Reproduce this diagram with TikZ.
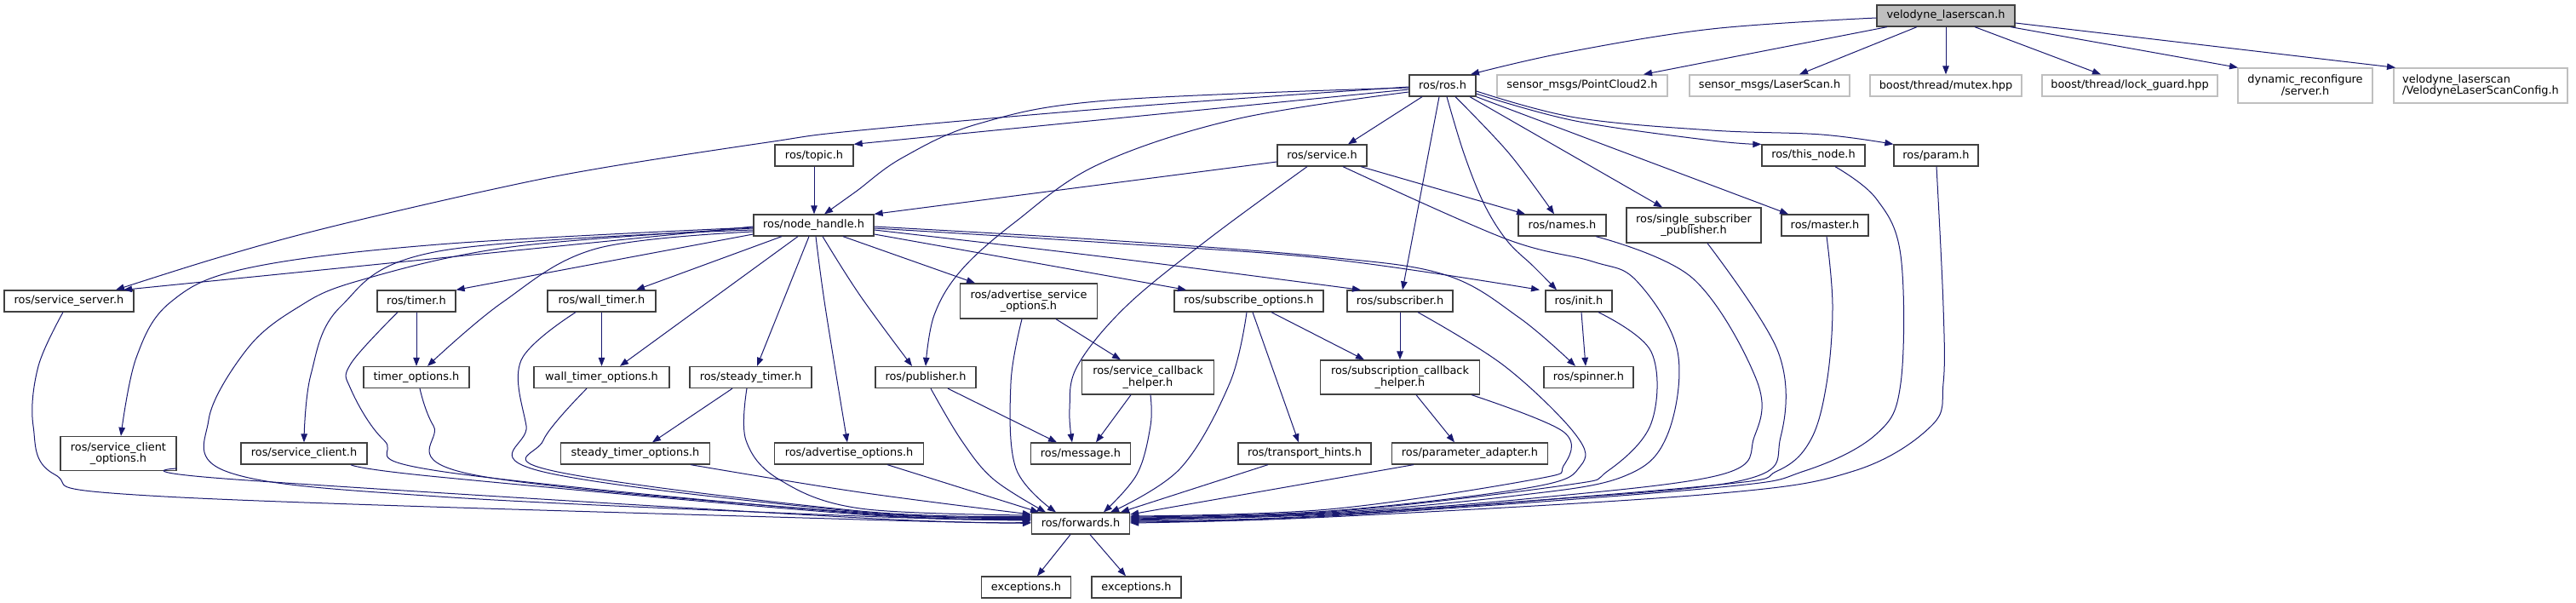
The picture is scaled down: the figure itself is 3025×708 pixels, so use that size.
\documentclass[tikz,border=0pt]{standalone}
\usepackage{fontspec}
\setmainfont{DejaVu Sans}
\usetikzlibrary{arrows.meta}
\definecolor{edgeblue}{HTML}{191970}
\definecolor{nodeborder}{HTML}{404040}
\definecolor{extgray}{HTML}{BFBFBF}
\definecolor{vfill}{HTML}{BFBFBF}
\newcommand\nodefont{\fontsize{12.9}{13.6}\selectfont}
\tikzset{
  nb/.style={draw=nodeborder, line width=1.3pt, fill=white, inner sep=0pt,
    font=\nodefont, align=center, minimum height=25pt},
  ext/.style={nb, draw=extgray},
  e/.style={draw=edgeblue, line width=1pt, -{Triangle[length=10pt,width=7.5pt]}},
  sm/.style={smooth, tension=0.6}
}
\begin{document}
\begin{tikzpicture}[x=1pt,y=-1pt]
\fill[white] (0,0) rectangle (3025,708);
\useasboundingbox (0,0) rectangle (3025,708);
% nodes
\node[nb, fill=vfill, minimum width=162pt] (V) at (2285,18.5) {velodyne\_laserscan.h};
\node[nb, minimum width=78pt] (R) at (1694,100.5) {ros/ros.h};
\node[ext, minimum width=200pt] (PC2) at (1858,100.5) {sensor\_msgs/PointCloud2.h};
\node[ext, minimum width=188pt] (LS) at (2078,100.5) {sensor\_msgs/LaserScan.h};
\node[ext, minimum width=178pt] (MX) at (2285,100.5) {boost/thread/mutex.hpp};
\node[ext, minimum width=206pt] (LG) at (2501,100.5) {boost/thread/lock\_guard.hpp};
\node[ext, minimum width=158pt, minimum height=41pt] (DR) at (2707,100.5) {dynamic\_reconfigure\\/server.h};
\node[ext, minimum width=204pt, minimum height=41pt, align=left] (VC) at (2913,100.5) {velodyne\_laserscan\\/VelodyneLaserScanConfig.h};
\node[nb, minimum width=92pt] (TOP) at (956,182.5) {ros/topic.h};
\node[nb, minimum width=105pt] (SV) at (1552.5,182.5) {ros/service.h};
\node[nb, minimum width=121pt] (TN) at (2129.5,182.5) {ros/this\_node.h};
\node[nb, minimum width=99pt] (PA) at (2273.5,182.5) {ros/param.h};
\node[nb, minimum width=141pt] (NH) at (955.5,264.5) {ros/node\_handle.h};
\node[nb, minimum width=103pt] (NM) at (1834.5,264.5) {ros/names.h};
\node[nb, minimum width=158pt, minimum height=41pt] (SSP) at (1989,264.5) {ros/single\_subscriber\\\_publisher.h};
\node[nb, minimum width=102pt] (MA) at (2143,264.5) {ros/master.h};
\node[nb, minimum width=152pt] (SS) at (81,353.5) {ros/service\_server.h};
\node[nb, minimum width=92pt] (TI) at (489,353.5) {ros/timer.h};
\node[nb, minimum width=127pt] (WT) at (706.5,353.5) {ros/wall\_timer.h};
\node[nb, minimum width=161pt, minimum height=41pt] (ASO) at (1208,353.5) {ros/advertise\_service\\\_options.h};
\node[nb, minimum width=175pt] (SO) at (1466.5,353.5) {ros/subscribe\_options.h};
\node[nb, minimum width=124pt] (SUB) at (1644,353.5) {ros/subscriber.h};
\node[nb, minimum width=78pt] (IN) at (1854,353.5) {ros/init.h};
\node[nb, minimum width=124pt] (TO) at (489,443) {timer\_options.h};
\node[nb, minimum width=159pt] (WTO) at (706.5,443) {wall\_timer\_options.h};
\node[nb, minimum width=143pt] (ST) at (881.5,443) {ros/steady\_timer.h};
\node[nb, minimum width=118pt] (PUB) at (1087,443) {ros/publisher.h};
\node[nb, minimum width=155pt, minimum height=40pt] (SCH) at (1348,443) {ros/service\_callback\\\_helper.h};
\node[nb, minimum width=187pt, minimum height=40pt] (SUBCH) at (1644,443) {ros/subscription\_callback\\\_helper.h};
\node[nb, minimum width=105pt] (SP) at (1865.5,443) {ros/spinner.h};
\node[nb, minimum width=136pt, minimum height=40pt] (SCO) at (139,532.5) {ros/service\_client\\\_options.h};
\node[nb, minimum width=148pt] (SC) at (357,532.5) {ros/service\_client.h};
\node[nb, minimum width=175pt] (STO) at (746,532.5) {steady\_timer\_options.h};
\node[nb, minimum width=175pt] (AO) at (997,532.5) {ros/advertise\_options.h};
\node[nb, minimum width=117pt] (MSG) at (1269,532.5) {ros/message.h};
\node[nb, minimum width=156pt] (TH) at (1532,532.5) {ros/transport\_hints.h};
\node[nb, minimum width=183pt] (PAD) at (1726,532.5) {ros/parameter\_adapter.h};
\node[nb, minimum width=115pt] (F) at (1269,614.5) {ros/forwards.h};
\node[nb, minimum width=105pt] (E1) at (1205,689.5) {exceptions.h};
\node[nb, minimum width=105pt] (E2) at (1334.5,689.5) {exceptions.h};
% edges from velodyne_laserscan.h
\draw[e] plot[sm] coordinates {(V.west|-0,21) (2010,34) (1837,62) (1727,0|-R.north)};
\draw[e] (2216,0|-V.south) -- (1930,0|-PC2.north);
\draw[e] (2251,0|-V.south) -- (2113,0|-LS.north);
\draw[e] (V.south) -- (MX.north);
\draw[e] (2319,0|-V.south) -- (2467,0|-LG.north);
\draw[e] (2361,0|-V.south) -- (2628,0|-DR.north);
\draw[e] (V.east|-0,27) -- (2813,0|-VC.north);
% edges from ros/ros.h
\draw[e] (R.west|-0,105) -- (TOP.north east);
\draw[e] plot[sm] coordinates {(R.west|-0,102) (1330,125) (1010,153) (902,167) (708,197) (580,222) (386,267) (258,302) (136,0|-SS.north)};
\draw[e] plot[sm] coordinates {(R.west|-0,103) (1300,118) (1150,145) (1060,185) (1005,225) (968,0|-NH.north)};
\draw[e] plot[sm] coordinates {(R.west|-0,108) (1451,140) (1290,193) (1193,260) (1129,317) (1097,370) (1087,0|-PUB.north)};
\draw[e] (1670,0|-R.south) -- (1583,0|-SV.north);
\draw[e] (1690,0|-R.south) -- (1647,0|-SUB.north);
\draw[e] plot[sm] coordinates {(1699,0|-R.south) (1719,180) (1743,240) (1770,283) (1801,313) (1828,0|-IN.north)};
\draw[e] plot[sm] coordinates {(1709,0|-R.south) (1772,180) (1825,0|-NM.north)};
\draw[e] (1726,0|-R.south) -- (1952,0|-SSP.north);
\draw[e] (R.south east) -- (2100,0|-MA.north);
\draw[e] plot[sm] coordinates {(R.east|-0,110) (1850,142) (2010,165) (TN.north west)};
\draw[e] plot[sm] coordinates {(R.east|-0,107) (1850,138) (2010,153) (2139,158) (PA.north west)};
% edges from ros/service.h
\draw[e] (SV.west|-0,190) -- (NH.north east);
\draw[e] (1598,0|-SV.south) -- (1791,0|-NM.north);
\draw[e] plot[sm] coordinates {(1535,0|-SV.south) (1420,280) (1322,360) (1265,430) (1256,480) (1259,0|-MSG.north)};
\draw[e] plot[sm] coordinates {(1577,0|-SV.south) (1767,280) (1870,307) (1922,330) (1970,413) (1957,513) (1905,560) (1780,582) (1560,602) (F.east|-0,609)};
% topic
\draw[e] (TOP.south) -- (956,0|-NH.north);
% edges from ros/node_handle.h
\draw[e] (NH.west|-0,266) -- (145,0|-SS.north);
\draw[e] plot[sm] coordinates {(NH.west|-0,267) (515,287) (290,315) (200,355) (160,420) (142,0|-SCO.north)};
\draw[e] plot[sm] coordinates {(NH.west|-0,268) (600,290) (420,330) (348,362) (290,410) (245,493) (270,555) (515,583) (1010,606) (F.west|-0,611)};
\draw[e] plot[sm] coordinates {(NH.west|-0,270) (515,295) (400,360) (365,440) (357,0|-SC.north)};
\draw[e] (NH.west|-0,275) -- (TI.north east);
\draw[e] plot[sm] coordinates {(NH.west|-0,272) (700,292) (590,355) (502,0|-TO.north)};
\draw[e] (918,0|-NH.south) -- (747,0|-WT.north);
\draw[e] (937,0|-NH.south) -- (728,0|-WTO.north);
\draw[e] (950,0|-NH.south) -- (889,0|-ST.north);
\draw[e] plot[sm] coordinates {(958,0|-NH.south) (969,360) (995,0|-AO.north)};
\draw[e] plot[sm] coordinates {(966,0|-NH.south) (1010,347) (1071,0|-PUB.north)};
\draw[e] (990,0|-NH.south) -- (1145,0|-ASO.north);
\draw[e] (NH.east|-0,275) -- (1393,0|-SO.north);
\draw[e] plot[sm] coordinates {(NH.east|-0,270) (1300,302) (1598,0|-SUB.north)};
\draw[e] plot[sm] coordinates {(NH.east|-0,268) (1300,285) (1560,304) (1808,0|-IN.north)};
\draw[e] plot[sm] coordinates {(NH.east|-0,266) (1300,282) (1560,302) (1698,323) (1784,373) (1850,0|-SP.north)};
% timers
\draw[e] (TI.south) -- (TO.north);
\draw[e] plot[sm] coordinates {(467,0|-TI.south) (412,427) (412,457) (451,517) (515,553) (1010,603) (F.west|-0,609)};
\draw[e] (WT.south) -- (WTO.north);
\draw[e] plot[sm] coordinates {(676,0|-WT.south) (612,423) (618,500) (634,553) (1010,601) (F.west|-0,607)};
\draw[e] plot[sm] coordinates {(493,0|-TO.south) (509,500) (554,557) (1010,602) (F.west|-0,608)};
\draw[e] plot[sm] coordinates {(689,0|-WTO.south) (638,517) (650,553) (1010,600) (F.west|-0,606)};
\draw[e] (860,0|-ST.south) -- (766,0|-STO.north);
\draw[e] plot[sm] coordinates {(877,0|-ST.south) (876,517) (915,563) (1010,597) (F.west|-0,605)};
\draw[e] plot[sm] coordinates {(811,0|-STO.south) (1010,578) (F.west|-0,604)};
% service server / client
\draw[e] plot[sm] coordinates {(74,0|-SS.south) (45,430) (39,500) (64,557) (193,583) (1010,610) (F.west|-0,614)};
\draw[e] plot[sm] coordinates {(SCO.east|-0,550) (277,563) (1010,608) (F.west|-0,613)};
\draw[e] plot[sm] coordinates {(412,0|-SC.south) (515,560) (1010,604) (F.west|-0,610)};
\draw[e] (1042,0|-AO.south) -- (1220,0|-F.north);
% publisher, advertise service, callbacks
\draw[e] plot[sm] coordinates {(1093,0|-PUB.south) (1129,517) (1167,563) (1228,0|-F.north)};
\draw[e] (1113,0|-PUB.south) -- (1241,0|-MSG.north);
\draw[e] plot[sm] coordinates {(1200,0|-ASO.south) (1187,450) (1193,550) (1240,0|-F.north)};
\draw[e] (1240,0|-ASO.south) -- (1316,0|-SCH.north);
\draw[e] (1328,0|-SCH.south) -- (1287,0|-MSG.north);
\draw[e] plot[sm] coordinates {(1351,0|-SCH.south) (1351,500) (1335,557) (1296,0|-F.north)};
% subscribe options, subscriber
\draw[e] plot[sm] coordinates {(1464,0|-SO.south) (1444,450) (1386,550) (1304,0|-F.north)};
\draw[e] (1471,0|-SO.south) -- (1525,0|-TH.north);
\draw[e] (1493,0|-SO.south) -- (1602,0|-SUBCH.north);
\draw[e] (1489,0|-TH.south) -- (1316,0|-F.north);
\draw[e] (SUB.south) -- (SUBCH.north);
\draw[e] plot[sm] coordinates {(1665,0|-SUB.south) (1767,430) (1850,510) (1856,547) (1799,572) (1560,600) (F.east|-0,607)};
\draw[e] (1663,0|-SUBCH.south) -- (1708,0|-PAD.north);
\draw[e] plot[sm] coordinates {(1728,0|-SUBCH.south) (1836,507) (1836,547) (1801,563) (1560,598) (F.east|-0,606)};
\draw[e] (1660,0|-PAD.south) -- (F.east|-0,604);
% init
\draw[e] (1857,0|-IN.south) -- (1862,0|-SP.north);
\draw[e] plot[sm] coordinates {(1877,0|-IN.south) (1939,413) (1939,497) (1888,553) (1836,570) (1560,601) (F.east|-0,608)};
% right side
\draw[e] plot[sm] coordinates {(1874,0|-NM.south) (1988,327) (2063,447) (2060,513) (2022,557) (1800,585) (1560,603) (F.east|-0,610)};
\draw[e] plot[sm] coordinates {(2005,0|-SSP.south) (2088,413) (2091,513) (2050,563) (1800,588) (1560,604) (F.east|-0,611)};
\draw[e] plot[sm] coordinates {(2145,0|-MA.south) (2152,360) (2145,450) (2126,517) (2087,553) (2010,570) (1560,605) (F.east|-0,612)};
\draw[e] plot[sm] coordinates {(2155,0|-TN.south) (2203,233) (2232,300) (2232,450) (2203,510) (2119,553) (2010,573) (1560,606) (F.east|-0,613)};
\draw[e] plot[sm] coordinates {(2274,0|-PA.south) (2282,360) (2282,450) (2268,500) (2177,553) (2010,580) (1560,607) (F.east|-0,614)};
% forwards
\draw[e] (1257,0|-F.south) -- (1218,0|-E1.north);
\draw[e] (1280,0|-F.south) -- (1322,0|-E2.north);
\end{tikzpicture}
\end{document}
